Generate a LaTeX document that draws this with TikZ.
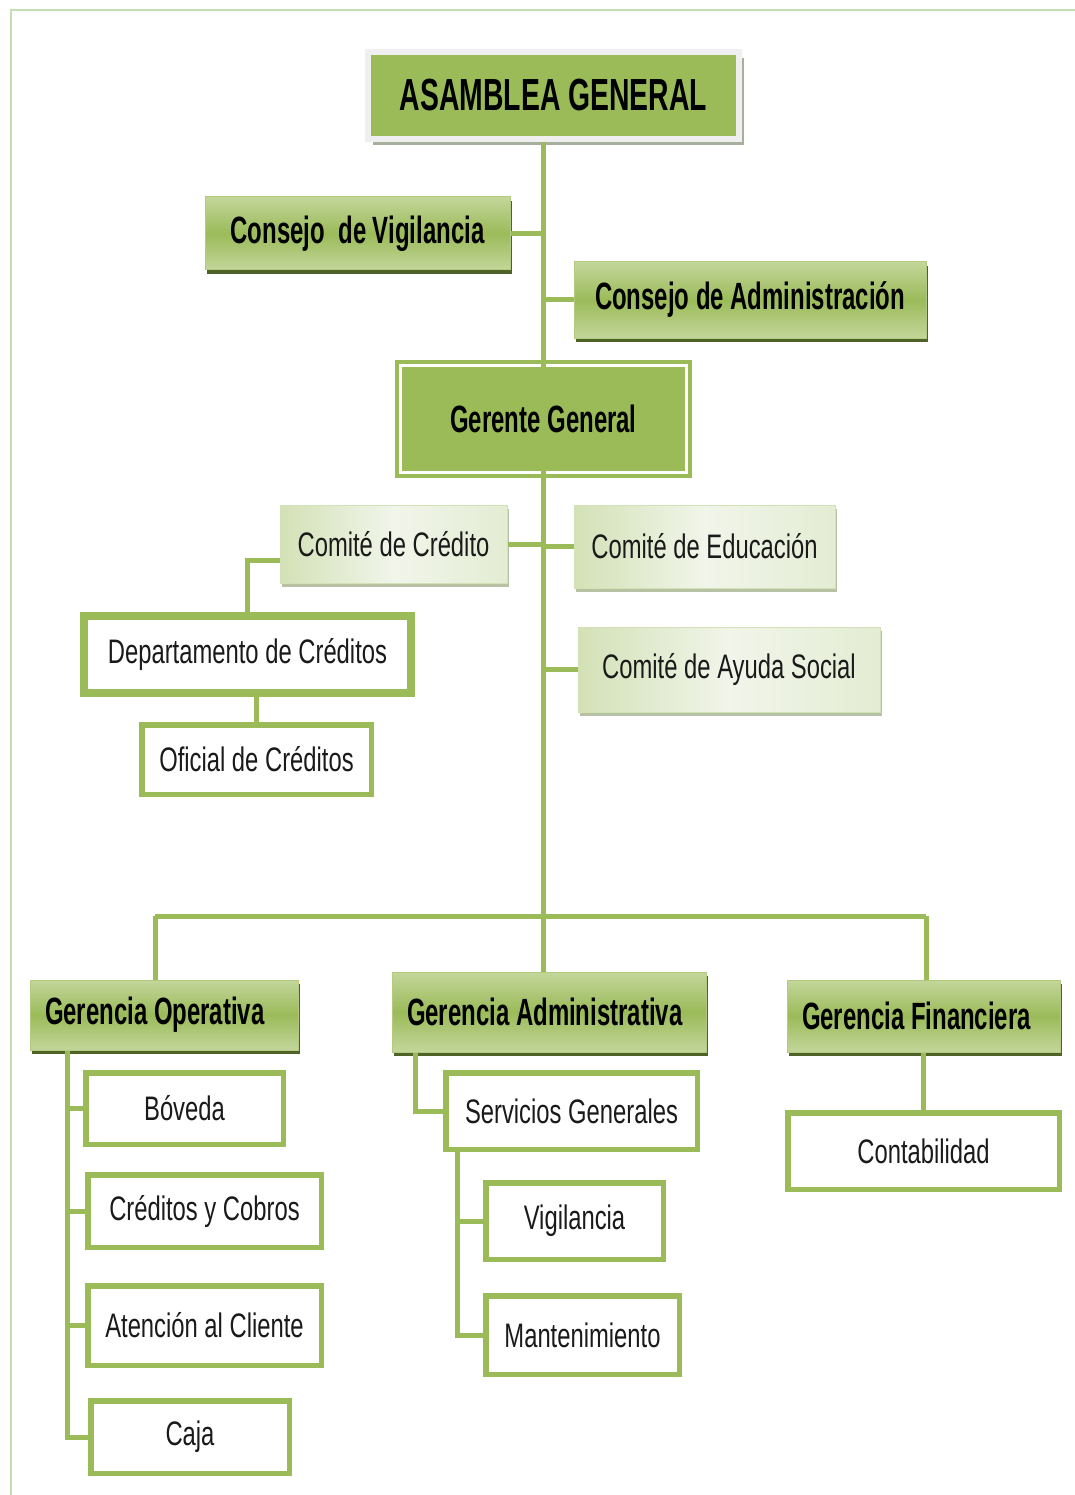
\documentclass[tikz,border=0pt]{standalone}
\usepackage{fontspec}
\newfontfamily\nf{Liberation Sans}[FakeStretch=0.7]
\newfontfamily\hf{Liberation Sans}[FakeStretch=0.63]
\usetikzlibrary{shadows}
\definecolor{gmid}{HTML}{9BBB59}
\definecolor{glt}{HTML}{C3D69B}
\definecolor{gdk}{HTML}{4F6228}
\definecolor{gpale}{HTML}{D3E1B6}
\definecolor{gpaler}{HTML}{E4ECD3}
\definecolor{gwhite}{HTML}{F1F5EA}
\definecolor{gshad}{HTML}{B7C1A3}
\definecolor{framec}{HTML}{C6DFB2}
\definecolor{agframe}{HTML}{EFEFEF}
\definecolor{agshad}{HTML}{A7B09D}
\definecolor{txt}{HTML}{1A1A1A}
\tikzset{
  box/.style={rectangle, inner sep=0pt, align=center},
  hdr/.style={box, top color=glt, bottom color=glt, middle color=gmid,
    draw=glt!60!gmid, line width=1,
    drop shadow={shadow xshift=2pt, shadow yshift=-4pt, fill=gdk, opacity=1},
    font=\hf\bfseries\fontsize{38}{44}\selectfont, text=black},
  com/.style={box, left color=gpale, right color=gpaler, middle color=gwhite,
    draw=gpale, line width=1,
    drop shadow={shadow xshift=2pt, shadow yshift=-4pt, fill=gshad, opacity=1},
    font=\nf\fontsize{34}{40}\selectfont, text=txt},
  wbox/.style={box, draw=gmid, line width=5.5, fill=white,
    font=\nf\fontsize{34}{40}\selectfont, text=txt},
  conn/.style={draw=gmid, line width=5},
}
\begin{document}
\begin{tikzpicture}[x=1pt, y=-1pt]
\useasboundingbox[fill=white] (0,0) rectangle (1075,1495);
% frame
\draw[framec, line width=2] (11,1495) -- (11,10) -- (1075,10);

% top level
\node[box, fill=gmid, draw=agframe, line width=6, minimum width=371, minimum height=87,
  drop shadow={shadow xshift=5pt, shadow yshift=-6pt, fill=agshad, opacity=1},
  font=\hf\bfseries\fontsize{45}{50}\selectfont] (ag) at (553.5,95.5) {ASAMBLEA GENERAL};

\node[hdr, minimum width=305, minimum height=73] (cv) at (357.5,233.5) {Consejo \ de Vigilancia};
\node[hdr, minimum width=352, minimum height=76] (ca) at (750,300) {Consejo de Administración};

\node[box, fill=gmid, draw=gmid, line width=4, double=white, double distance=3,
  minimum width=286, minimum height=107,
  font=\hf\bfseries\fontsize{38}{44}\selectfont] (gg) at (543.5,419) {Gerente General};

% committees
\node[com, minimum width=227, minimum height=78] (cc) at (393.5,544) {Comité de Crédito};
\node[com, minimum width=261, minimum height=83] (ce) at (704.5,546.5) {Comité de Educación};
\node[com, minimum width=302, minimum height=85] (cas) at (729,669.5) {Comité de Ayuda Social};

\node[wbox, line width=8, minimum width=327, minimum height=77] (dc) at (247.5,654.5) {Departamento de Créditos};
\draw[gmid, line width=1.5] ([shift={(6pt,-6pt)}]dc.north west) rectangle ([shift={(-6pt,6pt)}]dc.south east);
\node[wbox, minimum width=229.5, minimum height=69.5] (oc) at (256.5,759.5) {Oficial de Créditos};

% managements
\node[hdr, minimum width=268, minimum height=70] (go) at (164,1015) {\makebox[238pt][l]{Gerencia Operativa}};
\node[hdr, minimum width=314, minimum height=80] (gad) at (549,1012) {\makebox[284pt][l]{Gerencia Administrativa}};
\node[hdr, minimum width=273, minimum height=72] (gf) at (923.5,1016) {\makebox[243pt][l]{Gerencia Financiera}};

% operativa children
\node[wbox, minimum width=197.5, minimum height=71.5] (bov) at (184.5,1108.5) {Bóveda};
\node[wbox, minimum width=233.5, minimum height=72.5] (cyc) at (204.5,1211) {Créditos y Cobros};
\node[wbox, minimum width=233.5, minimum height=79.5] (atc) at (204.5,1325.5) {Atención al Cliente};
\node[wbox, minimum width=198.5, minimum height=72.5] (caja) at (190,1437) {Caja};

% administrativa children
\node[wbox, minimum width=251.5, minimum height=76.5] (sg) at (571.5,1111) {Servicios Generales};
\node[wbox, minimum width=177.5, minimum height=76.5] (vig) at (574.5,1221) {Vigilancia};
\node[wbox, minimum width=193.5, minimum height=78.5] (man) at (582.5,1335) {Mantenimiento};

% financiera child
\node[wbox, minimum width=271.5, minimum height=76.5] (cont) at (923.5,1151) {Contabilidad};

% helper coordinates
\coordinate (busL) at (155,916);
\coordinate (busR) at (926,916);
\coordinate (gox) at (67,0);
\coordinate (adx) at (415,0);
\coordinate (sgx) at (457,0);

% connectors
\draw[conn] (gg.north |- ag.south) -- ([yshift=-6pt]gg.north);
\draw[conn] ([yshift=6pt]gg.south) -- (gg.south |- gad.north);
\draw[conn] (cv.east) -- (cv.east -| gg.north);
\draw[conn] (ca.west) -- (ca.west -| gg.north);
\draw[conn] (cc.east) -- (cc.east -| gg.south);
\draw[conn] (ce.west) -- (ce.west -| gg.south);
\draw[conn] (cas.west) -- (cas.west -| gg.south);
\draw[conn] ([yshift=-16pt]cc.west) -| (dc.north);
\draw[conn] (oc.north |- dc.south) -- (oc.north);
\draw[conn] (busL) -- (busR);
\draw[conn] (busL) -- (busL |- go.north);
\draw[conn] (busR) -- (busR |- gf.north);
\draw[conn] (gox |- go.south) -- (gox |- caja.west) -- (caja.west);
\draw[conn] (gox |- bov.west) -- (bov.west);
\draw[conn] (gox |- cyc.west) -- (cyc.west);
\draw[conn] (gox |- atc.west) -- (atc.west);
\draw[conn] (adx |- gad.south) |- (sg.west);
\draw[conn] (sgx |- sg.south) |- (man.west);
\draw[conn] (sgx |- vig.west) -- (vig.west);
\draw[conn] (gf.south) -- (cont.north);
\end{tikzpicture}
\end{document}
